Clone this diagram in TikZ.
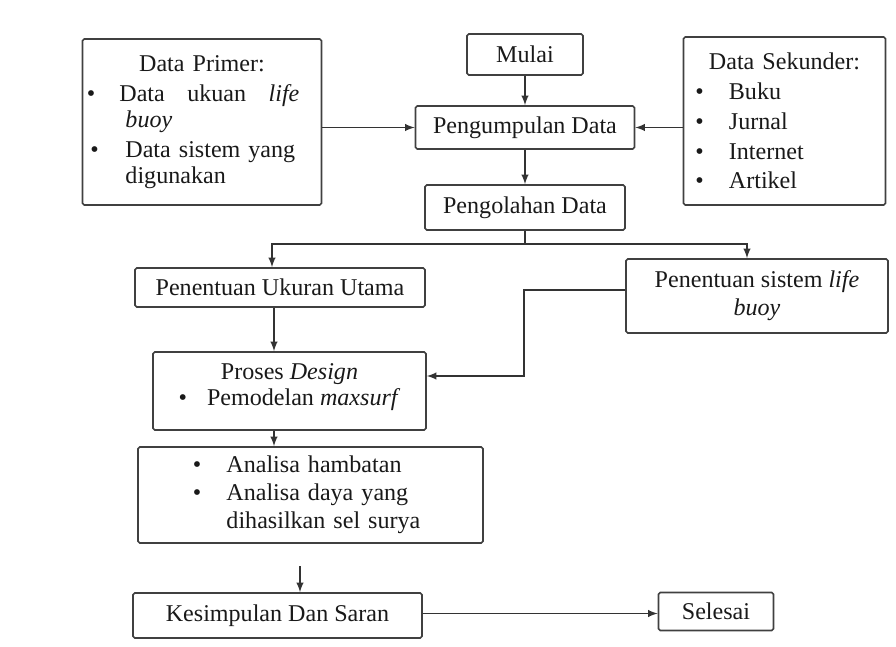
\documentclass[tikz,border=0pt]{standalone}
\usepackage{fontspec}
\setmainfont{Liberation Serif}
\usepackage{tikz}
\usetikzlibrary{shapes.geometric, arrows}
\tikzstyle{stepNode} = [rectangle, rounded corners=1pt, draw=black!75, line width=0.9pt, text=black!90, font=\fontsize{13.7}{15}\selectfont, align=center]
\tikzstyle{arrow} = [line width=0.9pt, draw=black!80, ->, >=latex]
\tikzstyle{line} = [line width=0.9pt, draw=black!80]

\begin{document}
\begin{tikzpicture}[node distance=2cm]
    \useasboundingbox (-10.5,1.09) rectangle (7.42,-11.85);
    \node (mulai) [stepNode, minimum width=2.32cm, minimum height=0.82cm] {Mulai};
    \node (pengumpulan) [stepNode, below of=mulai, yshift=0.54cm, minimum width=4.38cm, minimum height=0.86cm] {Pengumpulan Data};
    \node (pengolahan) [stepNode, below of=pengumpulan, yshift=0.4cm, minimum width=4cm, minimum height=0.9cm] {Pengolahan Data};
    % Data primer, data sekunder
    \node (primer) [stepNode, left of=pengumpulan, xshift=-4.46cm, yshift=0.11cm, text width=4.6cm, minimum width=4.78cm, minimum height=3.32cm, inner xsep=0pt] {Data Primer:\\[2pt]
        \makebox[4.6cm][l]{\textbullet\hspace{0.48cm}\makebox[3.6cm][l]{Data\hfill ukuan\hfill\textit{life}}}\\
        \makebox[4.6cm][l]{\hspace*{0.77cm}\textit{buoy}}\\[2pt]
        \makebox[4.6cm][l]{\hspace*{0.07cm}\textbullet\hspace{0.53cm}Data sistem yang}\\
        \makebox[4.6cm][l]{\hspace*{0.77cm}digunakan}};
    \node (sekunder) [stepNode, right of=pengumpulan, xshift=3.19cm, yshift=0.13cm, text width=3.8cm, minimum width=4.04cm, minimum height=3.36cm, inner xsep=0pt] {Data Sekunder:\\[2pt]
        \makebox[3.8cm][l]{\hspace*{0.12cm}\textbullet\hspace{0.5cm}Buku}\\[2pt]
        \makebox[3.8cm][l]{\hspace*{0.12cm}\textbullet\hspace{0.5cm}Jurnal}\\[2pt]
        \makebox[3.8cm][l]{\hspace*{0.12cm}\textbullet\hspace{0.5cm}Internet}\\[2pt]
        \makebox[3.8cm][l]{\hspace*{0.12cm}\textbullet\hspace{0.5cm}Artikel}};
    % Ukuran utama, sistem life buoy
    \node (ukuran) [stepNode, below of=pengolahan, xshift=-4.9cm, yshift=0.4cm, minimum width=5.8cm, minimum height=0.78cm] {Penentuan Ukuran Utama};
    \node (sistem) [stepNode, below of=pengolahan, xshift=4.64cm, yshift=0.23cm, minimum width=5.24cm, minimum height=1.48cm] {Penentuan sistem \textit{life}\\[1pt]\textit{buoy}};
    % Design
    \node (design) [stepNode, below of=ukuran, xshift=0.19cm, yshift=-0.07cm, minimum width=5.46cm, minimum height=1.56cm] {Proses \textit{Design}\\
        \textbullet\hspace{0.4cm}Pemodelan \textit{maxsurf}\\[-8pt]\mbox{}};
    % Analisa
    \node (analisa) [stepNode, below of=design, xshift=0.42cm, yshift=-0.08cm, text width=4.7cm, minimum width=6.9cm, minimum height=1.92cm] {\makebox[4.7cm][l]{\textbullet\hspace{0.5cm}Analisa hambatan}\\[1pt]
        \makebox[4.7cm][l]{\textbullet\hspace{0.5cm}Analisa daya yang}\\[1pt]
        \makebox[4.7cm][l]{\hspace*{0.67cm}dihasilkan sel surya}};
    % Kesimpulan, selesai
    \node (kesimpulan) [stepNode, below of=analisa, xshift=-0.66cm, yshift=-0.41cm, minimum width=5.78cm, minimum height=0.9cm] {Kesimpulan Dan Saran};
    \node (selesai) [stepNode, right of=kesimpulan, xshift=6.77cm, yshift=0.08cm, minimum width=2.3cm, minimum height=0.76cm] {Selesai};
    \coordinate [above of=kesimpulan, xshift=0.45cm, yshift=-1.01cm] (gap);
    \coordinate [below of=pengolahan, yshift=1.27cm] (split);

    \draw [arrow] (mulai) -- (pengumpulan);
    \draw [arrow] (primer.east |- pengumpulan.west) -- (pengumpulan.west);
    \draw [arrow] (sekunder.west |- pengumpulan.east) -- (pengumpulan.east);
    \draw [arrow] (pengumpulan) -- (pengolahan);
    % 
    \draw [line] (pengolahan) -- (split);
    \draw [arrow] (split) -| ([xshift=-0.16cm]ukuran.north);
    \draw [arrow] (split) -| ([xshift=-0.2cm]sistem.north);
    % 
    \draw [arrow] ([xshift=-0.12cm]ukuran.south) -- ([xshift=-0.12cm]ukuran.south |- design.north);
    \draw [arrow] ([yshift=0.12cm]sistem.west) -- ++(-2.02cm,0) |- ([yshift=0.3cm]design.east);
    \draw [arrow] ([xshift=-0.12cm]ukuran.south |- design.south) -- ([xshift=-0.12cm]ukuran.south |- analisa.north);
    % 
    \draw [arrow] (gap) -- (gap |- kesimpulan.north);
    \draw [arrow] ([yshift=0.04cm]kesimpulan.east) -- ([yshift=0.04cm]kesimpulan.east -| selesai.west);

\end{tikzpicture}
\end{document}
